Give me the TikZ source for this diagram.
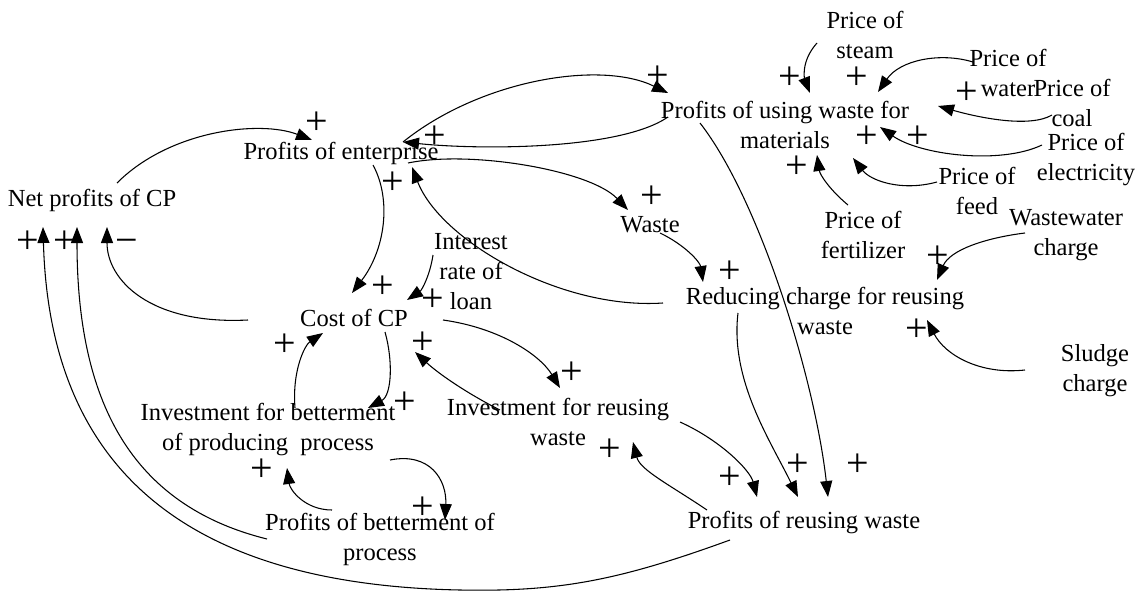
\documentclass[tikz,border=0pt]{standalone}
\usepackage{fontspec}
\setmainfont{Liberation Serif}
\usetikzlibrary{arrows.meta,calc}
\newcommand\cldfont{\fontsize{18.4}{22.5}\selectfont}
\newcommand\signfont{\fontsize{30}{30}\selectfont}
\tikzset{
var/.style={align=center,inner sep=0pt,font=\cldfont},
link/.style={-{Triangle[length=12pt,width=9pt]},line width=0.8pt},
pol/.style={inner sep=0pt,font=\signfont}
}
\begin{document}
\begin{tikzpicture}[x=0.75pt,y=-0.75pt]
\fill[white](0,0)rectangle(1140,592);
\useasboundingbox(0,0)rectangle(1140,592);
\node[var](npcp)at(92,200){Net profits of CP};
\node[var](pe)at(341,153){Profits of enterprise};
\node[var](puw)at(785,125){Profits of using waste for\\materials};
\node[var](psteam)at(865,35){Price of\\steam};
\node[var](pwater)at(1008,73){Price of\\water};
\node[var](pcoal)at(1072,103){Price of\\coal};
\node[var](pelec)at(1086,160){Price of\\electricity};
\node[var](pfeed)at(977,191){Price of\\feed};
\node[var](pfert)at(863,235){Price of\\fertilizer};
\node[var](wwc)at(1066,235){Wastewater\\charge};
\node[var](rcrw)at(825,311){Reducing charge for reusing\\waste};
\node[var](sludge)at(1095,371){Sludge\\charge};
\node[var](waste)at(650,225){Waste};
\node[var](irl)at(471,272){Interest\\rate of\\loan};
\node[var](cost)at(354,318){Cost of CP};
\node[var](ibp)at(268,430){Investment for betterment\\of producing\ \ process};
\node[var](irw)at(558,422){Investment for reusing\\waste};
\node[var](pbp)at(380,539){Profits of betterment of\\process};
\node[var](prw)at(804,523){Profits of reusing waste};
\draw[link]($(npcp)+(25,-17)$).. controls (170,130) and (260,120) ..($(pe)+(-29,-13)$);
\draw[link]($(pe)+(62,-11)$).. controls (480,80) and (600,60) ..($(puw)+(-117,-32)$);
\draw[link]($(puw)+(-117,-8)$).. controls (620,150) and (480,150) ..($(pe)+(62,-11)$);
\draw[link]($(pe)+(67,10)$).. controls (470,150) and (590,170) ..($(waste)+(-22,-15)$);
\draw[link]($(pe)+(32,12)$).. controls (392,200) and (385,250) ..($(cost)+(-2,-25)$);
\draw[link]($(rcrw)+(-162,-8)$).. controls (560,310) and (440,240) ..($(pe)+(71,14)$);
\draw[link]($(waste)+(10,8)$).. controls (685,245) and (700,262) ..($(rcrw)+(-122,-29)$);
\draw[link]($(irl)+(-38,-17)$).. controls (430,275) and (422,290) ..($(cost)+(53,-18)$);
\draw[link]($(cost)+(-106,2)$).. controls (150,325) and (107,280) ..($(npcp)+(15,27)$);
\draw[link]($(pbp)+(-113,0)$).. controls (130,505) and (77,400) ..($(npcp)+(-15,27)$);
\draw[link]($(prw)+(-74,17)$).. controls (620,580) and (560,592) ..(460,590).. controls (200,585) and (50,480) ..($(npcp)+(-49,27)$);
\draw[link]($(ibp)+(27,-22)$).. controls (292,370) and (305,345) ..($(cost)+(-31,15)$);
\draw[link]($(cost)+(31,14)$).. controls (393,360) and (392,395) ..($(ibp)+(100,-22)$);
\draw[link]($(irw)+(-58,-12)$).. controls (470,395) and (440,375) ..($(cost)+(61,34)$);
\draw[link]($(cost)+(89,2)$).. controls (500,328) and (540,355) ..($(irw)+(2,-34)$);
\draw[link]($(pbp)+(-48,-29)$).. controls (305,510) and (290,490) ..($(ibp)+(19,38)$);
\draw[link]($(ibp)+(122,30)$).. controls (430,452) and (447,480) ..($(pbp)+(65,-19)$);
\draw[link]($(prw)+(-97,-13)$).. controls (670,485) and (640,470) ..($(irw)+(75,20)$);
\draw[link]($(irw)+(122,0)$).. controls (720,440) and (750,470) ..($(prw)+(-47,-26)$);
\draw[link]($(rcrw)+(-87,2)$).. controls (730,380) and (770,440) ..($(prw)+(-6,-26)$);
\draw[link]($(puw)+(-85,-2)$).. controls (760,200) and (815,380) ..($(prw)+(24,-26)$);
\draw[link]($(psteam)+(-48,8)$).. controls (800,62) and (805,80) ..($(puw)+(25,-32)$);
\draw[link]($(pwater)+(-35,-11)$).. controls (940,52) and (900,60) ..($(puw)+(93,-33)$);
\draw[link]($(pcoal)+(-20,12)$).. controls (1030,128) and (980,118) ..($(puw)+(153,-19)$);
\draw[link]($(pelec)+(-44,-15)$).. controls (1000,165) and (920,155) ..($(puw)+(95,2)$);
\draw[link]($(pfeed)+(-40,-9)$).. controls (900,192) and (870,180) ..($(puw)+(68,33)$);
\draw[link]($(pfert)+(-15,-30)$).. controls (830,190) and (820,175) ..($(puw)+(32,30)$);
\draw[link]($(wwc)+(-41,-2)$).. controls (985,238) and (950,250) ..($(rcrw)+(112,-31)$);
\draw[link]($(sludge)+(-70,-1)$).. controls (980,375) and (945,355) ..($(rcrw)+(102,9)$);
\foreach \px/\py [count=\i] in {317/123,658/77,435/137,652/197,383/287,393/183,730/272,433/300,28/242,65/242,285/345,405/403,423/343,572/373,262/470,423/508,610/450,730/478,798/465,858/465,790/78,857/78,967/93,867/137,918/137,797/167,938/257,917/330}
\node[pol](plus\i)at(\px,\py){+};
\node[pol](minus1)at(127,242){\vphantom{+}−};
\end{tikzpicture}
\end{document}
